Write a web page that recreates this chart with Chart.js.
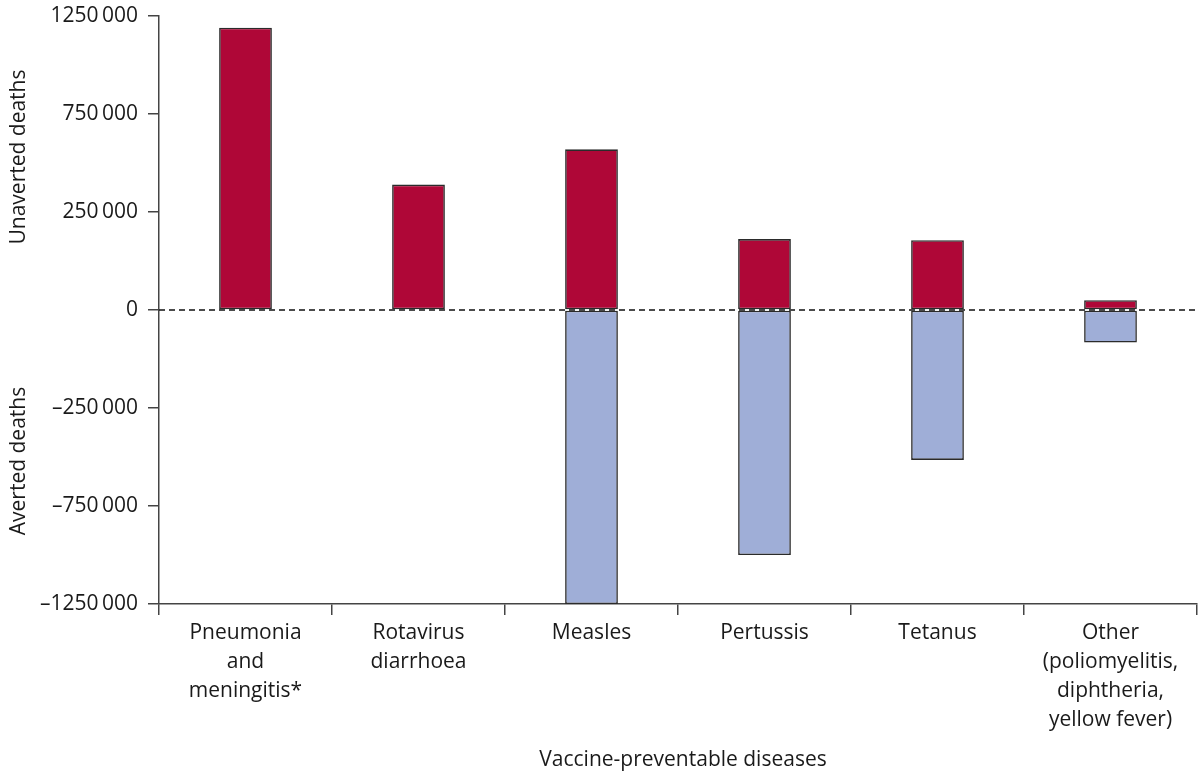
<!DOCTYPE html>
<html>
<head>
<meta charset="utf-8">
<title>Unaverted and averted deaths</title>
<script src="https://cdn.jsdelivr.net/npm/chart.js@4/dist/chart.umd.min.js"></script>
<style>
  html, body { margin: 0; padding: 0; background: #fff; }
  #wrap { width: 1203px; height: 773px; position: relative; }
</style>
</head>
<body>
<div id="wrap"><canvas id="chart"></canvas></div>
<script>
// Categories and values
const diseases = [
  ['Pneumonia', 'and', 'meningitis*'],
  ['Rotavirus', 'diarrhoea'],
  ['Measles'],
  ['Pertussis'],
  ['Tetanus'],
  ['Other', '(poliomyelitis,', 'diphtheria,', 'yellow fever)']
];
const unavertedDeaths = [1190000, 390000, 570000, 181000, 178000, 25000];
const avertedDeaths = [null, null, -1250000, -1000000, -515000, -83000];

// Tick labels as printed (evenly spaced on the page)
const yTickValues = [1250000, 750000, 250000, 0, -250000, -750000, -1250000];

const colors = {
  unaverted: '#AF0737',
  averted: '#9FAED7',
  border: '#2b2b2b',
  axis: '#444444',
  text: '#1a1a1a'
};
const fontFamily = "'Open Sans', 'Noto Sans', sans-serif";

// Scale that places the printed ticks at equal distances
class PrintedTickScale extends Chart.LinearScale {
  static id = 'printedTicks';
  static defaults = {};

  sortedTicks() {
    return [...yTickValues].sort((a, b) => a - b);
  }
  buildTicks() {
    const vals = this.sortedTicks();
    this.min = vals[0];
    this.max = vals[vals.length - 1];
    return vals.map(v => ({ value: v }));
  }
  getPixelForValue(value) {
    if (value === null || value === undefined || isNaN(value)) return NaN;
    const vals = this.sortedTicks();
    const n = vals.length - 1;
    let i = 0;
    while (i < n - 1 && value > vals[i + 1]) i++;
    const t = i + (value - vals[i]) / (vals[i + 1] - vals[i]);
    return this.getPixelForDecimal(t / n);
  }
  getValueForPixel(pixel) {
    const vals = this.sortedTicks();
    const n = vals.length - 1;
    const t = this.getDecimalForPixel(pixel) * n;
    const i = Math.max(0, Math.min(n - 1, Math.floor(t)));
    return vals[i] + (t - i) * (vals[i + 1] - vals[i]);
  }
}
Chart.register(PrintedTickScale);

function formatThousands(v) {
  const sign = v < 0 ? '\u2013' : '';
  const s = String(Math.abs(v));
  if (s.length <= 4) return sign + s;
  return sign + s.slice(0, s.length - 3) + '\u2009' + s.slice(-3);
}

// Dashed zero line and axis titles
const extras = {
  id: 'extras',
  afterDatasetsDraw(chart) {
    const { ctx, chartArea, scales } = chart;
    const y0 = scales.y.getPixelForValue(0);
    ctx.save();
    ctx.strokeStyle = '#111';
    ctx.lineWidth = 1.3;
    ctx.setLineDash([6, 4]);
    ctx.beginPath();
    ctx.moveTo(chartArea.left, y0);
    ctx.lineTo(chartArea.right, y0);
    ctx.stroke();
    ctx.restore();
  },
  afterDraw(chart) {
    const { ctx } = chart;
    ctx.save();
    ctx.fillStyle = colors.text;
    ctx.font = '21px ' + fontFamily;
    ctx.textAlign = 'center';
    ctx.textBaseline = 'middle';
    ctx.fillText('Vaccine-preventable diseases', 683, 760);

    ctx.translate(19, 0);
    ctx.rotate(-Math.PI / 2);
    ctx.fillText('Unaverted deaths', -157, 0);
    ctx.fillText('Averted deaths', -461, 0);
    ctx.restore();
  }
};

new Chart(document.getElementById('chart'), {
  type: 'bar',
  data: {
    labels: diseases,
    datasets: [{
      label: 'Unaverted deaths',
      data: unavertedDeaths,
      backgroundColor: colors.unaverted,
      borderColor: colors.border,
      borderWidth: 1.6,
      borderSkipped: false
    }, {
      label: 'Averted deaths',
      data: avertedDeaths,
      backgroundColor: colors.averted,
      borderColor: colors.border,
      borderWidth: 1.6,
      borderSkipped: false
    }]
  },
  options: {
    responsive: true,
    maintainAspectRatio: false,
    animation: false,
    layout: { padding: { top: 16, right: 6, bottom: 0, left: 0 } },
    datasets: {
      bar: { categoryPercentage: 1, barPercentage: 0.305 }
    },
    plugins: {
      legend: { display: false },
      tooltip: { enabled: false }
    },
    scales: {
      x: {
        stacked: true,
        border: { color: colors.axis, width: 1.5 },
        grid: {
          offset: true,
          drawOnChartArea: false,
          color: colors.axis,
          lineWidth: 1.5,
          tickLength: 11
        },
        ticks: {
          color: colors.text,
          maxRotation: 0,
          autoSkip: false,
          padding: 4,
          font: { family: fontFamily, size: 21, lineHeight: 1.38 }
        },
        afterFit(scale) {
          scale.height = 169;
          scale.paddingLeft = 0;
          scale.paddingRight = 0;
        }
      },
      y: {
        type: 'printedTicks',
        stacked: true,
        min: -1250000,
        max: 1250000,
        border: { color: colors.axis, width: 1.5 },
        grid: {
          drawOnChartArea: false,
          color: colors.axis,
          lineWidth: 1.5,
          tickLength: 11
        },
        ticks: {
          color: colors.text,
          padding: 10,
          font: { family: fontFamily, size: 21 },
          callback: v => formatThousands(v)
        },
        afterFit(scale) {
          scale.width = 159;
          scale.paddingTop = 0;
          scale.paddingBottom = 0;
        }
      }
    }
  },
  plugins: [extras]
});
</script>
</body>
</html>
